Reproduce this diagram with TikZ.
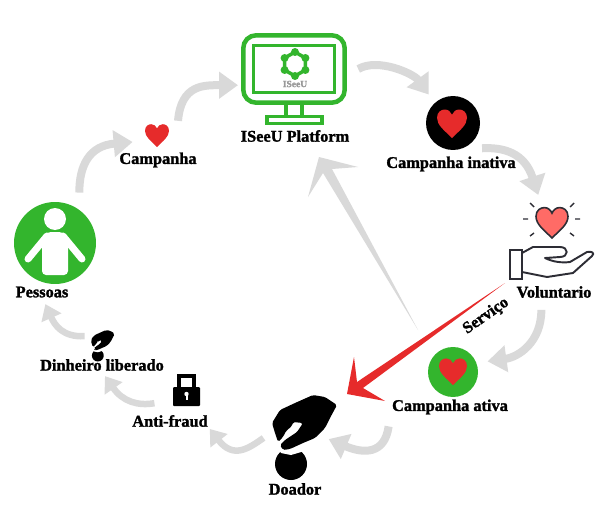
\documentclass[tikz,border=0pt]{standalone}
\usepackage{fontspec}
\setmainfont{Liberation Serif}[BoldFeatures={FakeBold=1.6}]
\usetikzlibrary{arrows.meta}

\definecolor{flowgray}{HTML}{D9D9D9}
\definecolor{leafgreen}{HTML}{33B52D}
\definecolor{heartred}{HTML}{E62B2B}
\definecolor{heartcoral}{HTML}{FF6B66}
\definecolor{handink}{HTML}{2D2D35}

\tikzset{
    bigflow/.style={-{Triangle[length=.38cm,width=.52cm]},line width=.16cm},
    smallflow/.style={-{Triangle[length=.3cm,width=.42cm]},line width=.13cm},
    hub/.style={circle,inner sep=0pt,minimum size=#1},
    frame/.style={rectangle,inner sep=0pt,draw=leafgreen,fill=white},
    pics/heartshape/.style={code={
        \path[pic actions] (0,1) .. controls (-.5,.5) and (-1,.15) .. (-1,-.35)
            .. controls (-1,-.75) and (-.7,-.9) .. (-.48,-.9)
            .. controls (-.25,-.9) and (-.08,-.75) .. (0,-.55)
            .. controls (.08,-.75) and (.25,-.9) .. (.48,-.9)
            .. controls (.7,-.9) and (1,-.75) .. (1,-.35)
            .. controls (1,.15) and (.5,.5) .. (0,1) -- cycle;
    }},
    pics/coinhand/.style={code={
        \fill[black] (-14,34) circle (16);
        \fill[white] (-29,14) -- (-24,23) -- (-14,25) -- (3,20) -- (3,11) -- cycle;
        \fill[black,rounded corners=1pt] (8,-35) -- (20,-33) -- (32,-25) -- (25,-12) -- (20,-2)
            -- (10,8) -- (-2,13) -- (-15,19) -- (-22,20) -- (-25,15) -- (-20,10) -- (-8,2)
            -- (-2,-7) -- (-12,-8) -- (-13,-4) -- (-19,1) -- (-22,7) -- (-27,12) -- (-30,3)
            -- (-33,-7) -- (-25,-20) -- (-10,-27) -- cycle;
    }}
}

\begin{document}
\begin{tikzpicture}[x=.02cm,y=-.02cm]
    \useasboundingbox (0,0) rectangle (608,527);

    % Long arrows %
    \coordinate (grayTail) at (418,330);
    \coordinate (grayTip) at (319,157);
    \coordinate (servicoTail) at (505,283);
    \coordinate (servicoTip) at (347,394);
    \fill[flowgray] (grayTail) -- (332,169) -- (358,167) -- (grayTip) -- (308,197) -- (323,173) -- cycle;
    \fill[heartred] (servicoTail) -- (357,382) -- (354,357) -- (servicoTip) -- (385,401) -- (363,388) -- cycle;

    \begin{scope}[every node/.style={hub=.5cm}]
        \node[hub=1.64cm,fill=leafgreen] (pessoas) at (55,243) {};
        \node[hub=1cm] (campanha) at (157,135) {};
        \node[hub=1.08cm,fill=black] (inativa) at (453,123) {};
        \node[hub=1.2cm] (voluntario) at (552,222) {};
        \node[hub=1cm,fill=leafgreen] (ativa) at (453,372) {};
        \node[hub=1cm] (doador) at (305,430) {};
        \node[rectangle,minimum width=.54cm,minimum height=.64cm] (lock) at (186,390) {};
        \node[rectangle,minimum width=.48cm,minimum height=.6cm] (dinheiro) at (103,343) {};
    \end{scope}

    % Monitor %
    \draw[leafgreen,line width=.07cm] (286,104) -- (286,116) (302,104) -- (302,116);
    \node[frame,line width=.09cm,rounded corners=.26cm,minimum width=2.03cm,minimum height=1.35cm] (monitor) at (294,69) {};
    \node[frame,line width=.07cm,minimum width=1.62cm,minimum height=.94cm] (screen) at (294,69) {};
    \node[frame,line width=.07cm,minimum width=1.1cm,minimum height=.14cm] (stand) at (294.5,120) {};
    \draw[leafgreen,line width=.07cm] (295,64) +(30:12) -- +(90:12) -- +(150:12) -- +(210:12) -- +(270:12) -- +(330:12) -- cycle;
    \foreach \a in {30,90,...,330}
        \fill[leafgreen] (295,64) +(\a:12) circle (4);
    \node[text=black!40,font=\fontsize{5.4}{6}\selectfont\bfseries,inner sep=0pt] (logo) at (295,84) {ISeeU};

    % Person %
    \fill[white] (55,219) circle (11);
    \fill[white,rounded corners=.08cm] (47,232) -- (63,232) -- (68,238) -- (68,275) -- (42,275) -- (42,238) -- cycle;
    \draw[white,line width=.14cm,line cap=round] (47,236) -- (28,259) (63,236) -- (82,259);

    % Hearts %
    \pic[fill=heartred,scale=12] at (157,135) {heartshape};
    \pic[fill=heartred,scale=15] at (452,123) {heartshape};
    \pic[fill=heartred,scale=14] at (453,371) {heartshape};
    \pic[fill=heartcoral,draw=handink,line width=.9pt,scale=16] at (552,222) {heartshape};

    % Rays and hand %
    \draw[handink,line width=.8pt] (523,219) -- (528,219) (575,219) -- (580,219)
        (530,203) -- (534,207) (574,203) -- (570,207) (530,236) -- (534,233) (574,236) -- (570,233);
    \draw[handink,line width=1.1pt,fill=white] (510,250) rectangle (522,279);
    \draw[handink,line width=1.1pt,line join=round] (522,253) -- (533,247) -- (560,247)
        .. controls (569,247) and (569,257) .. (560,257) -- (545,258)
        .. controls (553,262) and (562,263) .. (570,262) -- (587,252)
        .. controls (592,251) and (595,253) .. (592,256) -- (573,273) -- (547,277) -- (522,272);

    % Money and lock %
    \pic at (305,430) {coinhand};
    \pic[scale=.37] at (103,343) {coinhand};
    \fill[black,rounded corners=.02cm] (173,387) rectangle (200,406);
    \draw[black,line width=.08cm] (179,388) -- (179,376) -- (194,376) -- (194,388);
    \fill[white] (186.5,394) circle (2.2);
    \fill[white] (185.5,394) rectangle (187.5,400);

    \begin{scope}[every node/.style={font=\fontsize{9.3}{11}\selectfont\bfseries,inner sep=1pt}]
        \node (pessoasText) at (42,292) {Pessoas};
        \node (campanhaText) at (158,160) {Campanha};
        \node (monitorText) at (295,136) {ISeeU Platform};
        \node (inativaText) at (451,164) {Campanha inativa};
        \node (voluntarioText) at (554,292) {Voluntario};
        \node (ativaText) at (450,407) {Campanha ativa};
        \node (doadorText) at (295,489) {Doador};
        \node (lockText) at (170,421) {Anti-fraud};
        \node (dinheiroText) at (102,365) {Dinheiro liberado};
        \node[rotate=35] (servicoText) at (486,316) {Serviço};
    \end{scope}

    \begin{scope}[every edge/.style={draw=flowgray}]
        \path [bigflow] (pessoas.54) edge [out=90,in=185,looseness=1.3,shorten <=.34cm] (campanha.196);
        \path [bigflow] (campanha.34) edge [out=85,in=180,looseness=1.3,shorten >=.06cm] (monitor.197);
        \path [bigflow] (monitor.-7) edge [out=30,in=126,shorten <=.26cm,shorten >=.2cm] (inativa.132);
        \path [bigflow] (inativa.-75) edge [out=3,in=108,looseness=1.25,shorten <=.44cm] (voluntario.117);
        \path [bigflow] (voluntarioText.212) edge [out=270,in=8,looseness=1.2,shorten <=.2cm,shorten >=.22cm] (ativa.21);
        \path [bigflow] (ativaText.189) edge [out=262,in=337,looseness=1.5,shorten <=.2cm] (doador.-21);
        \path [smallflow] (doador.172) edge [out=215,in=308,looseness=1.4,shorten <=.4cm] (lockText.south east);
        \path [smallflow] (lock.216) edge [out=190,in=305,looseness=1.2,shorten <=.36cm,shorten >=.08cm] (dinheiroText.-85);
        \path [smallflow] (dinheiro.150) edge [out=183,in=294,looseness=1.2,shorten <=.12cm,shorten >=.1cm] (pessoasText.-80);
    \end{scope}
\end{tikzpicture}
\end{document}
